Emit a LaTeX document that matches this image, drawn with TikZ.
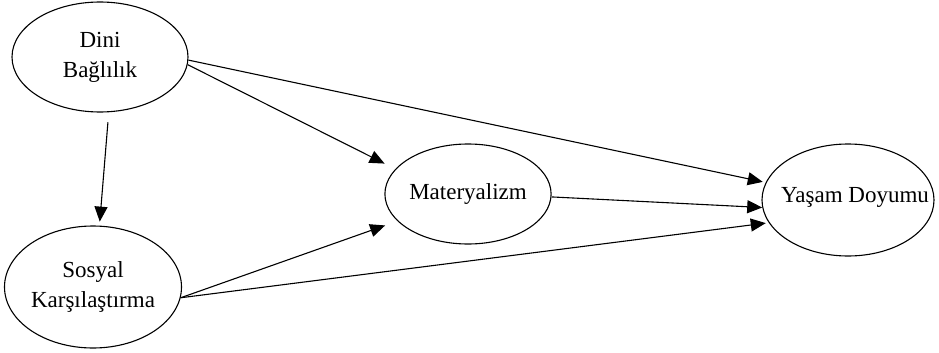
\documentclass[tikz,border=0pt]{standalone}
\usepackage{fontspec}
\setmainfont{Liberation Serif}
\usetikzlibrary{shapes.geometric,arrows.meta}
\begin{document}
\begin{tikzpicture}[x=1pt,y=-1pt,
  txt/.style={font=\fontsize{23}{30}\selectfont,align=center},
  lat/.style={draw,ellipse,line width=1.1pt,inner sep=0pt,txt},
  conn/.style={line width=1.1pt,-{Triangle[length=15pt,width=13pt]}}]
\useasboundingbox (0,0) rectangle (939,353);
\node[lat,minimum width=176,minimum height=110] (dini) at (100,57) {Dini\\Bağlılık};
\node[lat,minimum width=177,minimum height=122,inner xsep=-4pt] (sos) at (93,287) {Sosyal\\Karşılaştırma};
\node[lat,minimum width=160,minimum height=100] (mat) at (468,194) {Materyalizm};
\node[lat,minimum width=172,minimum height=112,
  label={[txt,xshift=7pt,yshift=3pt]center:Yaşam Doyumu}] (yas) at (848,200) {};
\draw[conn,shorten <=10pt,shorten >=4pt] (dini.-81) -- (sos.84);
\draw[conn,shorten >=12pt] (dini.-5) -- (mat.161);
\draw[conn,shorten >=3pt] (dini.-2) -- (yas.168);
\draw[conn] (mat.-2) -- (yas.-175);
\draw[conn,shorten >=13pt] (sos.-7) -- (mat.-159);
\draw[conn,shorten >=3pt] (sos.-7) -- (yas.-164);
\end{tikzpicture}
\end{document}
